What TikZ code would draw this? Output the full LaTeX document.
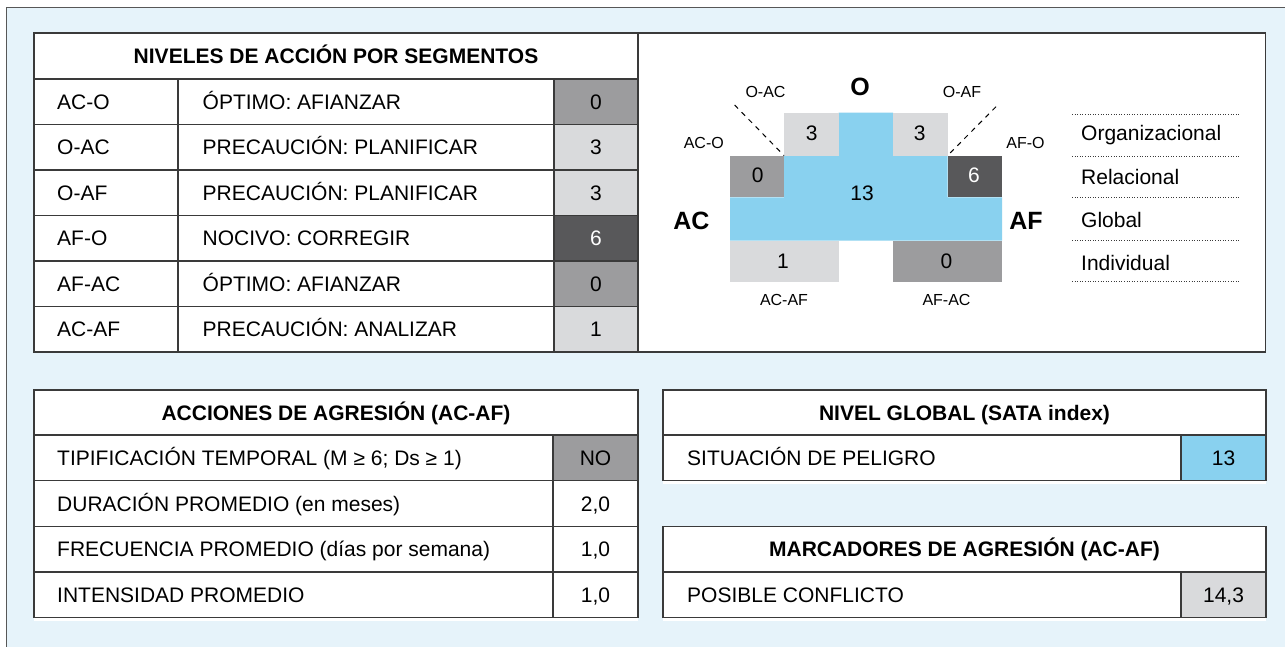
\documentclass[tikz,border=0pt]{standalone}
\usepackage{fontspec}
\setmainfont{Liberation Sans}
\definecolor{bgblue}{HTML}{E6F3FA}
\definecolor{skyb}{HTML}{89D1EF}
\definecolor{lgrey}{HTML}{D9DADC}
\definecolor{mgrey}{HTML}{9C9C9E}
\definecolor{dgrey}{HTML}{58585A}
\definecolor{lineg}{HTML}{3A3A3A}
\begin{document}
\begin{tikzpicture}[x=1pt,y=-1pt,
  cell/.style={draw=lineg,line width=1.3pt},
  txt/.style={font=\fontsize{21}{24}\selectfont,inner sep=0pt,anchor=base west},
  ctxt/.style={font=\fontsize{21}{24}\selectfont,inner sep=0pt,anchor=base},
  htxt/.style={font=\fontsize{21}{24}\selectfont\bfseries,inner sep=0pt,anchor=base},
  small/.style={font=\fontsize{16}{18}\selectfont,inner sep=0pt,anchor=base},
  big/.style={font=\fontsize{25}{28}\selectfont\bfseries,inner sep=0pt,anchor=base},
  legline/.style={draw=lineg,line width=1pt,dash pattern=on 1pt off 1.6pt},
  guide/.style={draw=black,line width=1pt,dash pattern=on 5pt off 5pt},
]
\useasboundingbox (0,0) rectangle (1285,646);
% outer frame
\fill[bgblue] (6,7.5) rectangle (1290,650);
\draw[lineg!85,line width=1pt] (6,650) -- (6,7.5) -- (1290,7.5);

% ---------- Table 1 ----------
\fill[white] (34,33) rectangle (638,352);
\fill[mgrey] (554,79) rectangle (638,124.5);
\fill[lgrey] (554,124.5) rectangle (638,170);
\fill[lgrey] (554,170) rectangle (638,215.5);
\fill[dgrey] (554,215.5) rectangle (638,261);
\fill[mgrey] (554,261) rectangle (638,306.5);
\fill[lgrey] (554,306.5) rectangle (638,352);
\draw[cell] (34,33) rectangle (638,352);
\foreach \yy in {79,124.5,170,215.5,261,306.5} \draw[cell] (34,\yy) -- (638,\yy);
\draw[cell] (178,79) -- (178,352);
\draw[cell] (554,79) -- (554,352);
\node[htxt] (t1h) at (336,63.5) {NIVELES DE ACCIÓN POR SEGMENTOS};
\node[txt] (t1a1) at (57,109.25) {AC-O};
\node[txt] (t1b1) at (202.5,109.25) {ÓPTIMO: AFIANZAR};
\node[ctxt] (t1c1) at (596,109.25) {0};
\node[txt] (t1a2) at (57,154.75) {O-AC};
\node[txt] (t1b2) at (202.5,154.75) {PRECAUCIÓN: PLANIFICAR};
\node[ctxt] (t1c2) at (596,154.75) {3};
\node[txt] (t1a3) at (57,200.25) {O-AF};
\node[txt] (t1b3) at (202.5,200.25) {PRECAUCIÓN: PLANIFICAR};
\node[ctxt] (t1c3) at (596,200.25) {3};
\node[txt] (t1a4) at (57,245.75) {AF-O};
\node[txt] (t1b4) at (202.5,245.75) {NOCIVO: CORREGIR};
\node[ctxt,text=white] (t1c4) at (596,245.75) {6};
\node[txt] (t1a5) at (57,291.25) {AF-AC};
\node[txt] (t1b5) at (202.5,291.25) {ÓPTIMO: AFIANZAR};
\node[ctxt] (t1c5) at (596,291.25) {0};
\node[txt] (t1a6) at (57,336.75) {AC-AF};
\node[txt] (t1b6) at (202.5,336.75) {PRECAUCIÓN: ANALIZAR};
\node[ctxt] (t1c6) at (596,336.75) {1};

% ---------- Diagram box ----------
\fill[white] (638,33) rectangle (1265.5,352);
\draw[cell] (638,33) rectangle (1265.5,352);
\fill[skyb] (838.5,112.7) -- (893,112.7) -- (893,156) -- (947.7,156) -- (947.7,197.3)
  -- (1002,197.3) -- (1002,240.7) -- (730,240.7) -- (730,197.3) -- (784,197.3)
  -- (784,156) -- (838.5,156) -- cycle;
\fill[lgrey] (784,112.7) rectangle (838.5,156);
\fill[lgrey] (893,112.7) rectangle (947.7,156);
\fill[mgrey] (730,156) rectangle (784,197.3);
\fill[dgrey] (947.7,156) rectangle (1002,197.3);
\fill[lgrey] (730,240.7) rectangle (839,281.7);
\fill[mgrey] (892.6,240.7) rectangle (1002,281.7);
\coordinate (gl1) at (734.6,105);
\coordinate (gl2) at (784,155.5);
\coordinate (gr1) at (996,106.7);
\coordinate (gr2) at (947.7,155.5);
\draw[guide] (gl1) -- (gl2);
\draw[guide] (gr1) -- (gr2);
\node[big] (dO) at (860,95.3) {O};
\node[big] (dAC) at (691.4,229.3) {AC};
\node[big] (dAF) at (1026,229.3) {AF};
\node[small] (lOAC) at (765.5,97.4) {O-AC};
\node[small] (lOAF) at (962,97.4) {O-AF};
\node[small] (lACO) at (703.8,148.4) {AC-O};
\node[small] (lAFO) at (1025.5,148.4) {AF-O};
\node[small] (lACAF) at (784,305.7) {AC-AF};
\node[small] (lAFAC) at (946.5,305.7) {AF-AC};
\node[ctxt] (n3a) at (811.6,140.2) {3};
\node[ctxt] (n3b) at (919.7,140.2) {3};
\node[ctxt] (n0a) at (757.7,182.5) {0};
\node[ctxt,text=white] (n6) at (974,182.5) {6};
\node[ctxt] (n13) at (862,200.8) {13};
\node[ctxt] (n1) at (783,268.2) {1};
\node[ctxt] (n0b) at (946.5,268.2) {0};
% legend
\foreach \yy in {114.3,156.7,197.7,240.7,281} \draw[legline] (1072,\yy) -- (1238.6,\yy);
\node[txt] (lg1) at (1081,140.8) {Organizacional};
\node[txt] (lg2) at (1081,184.2) {Relacional};
\node[txt] (lg3) at (1081,227.5) {Global};
\node[txt] (lg4) at (1081,270.8) {Individual};

% ---------- Table A ----------
\fill[white] (34,390) rectangle (638,621);
\fill[mgrey] (553,435) rectangle (638,480.7);
\draw[cell] (34,390) rectangle (638,617.5);
\foreach \yy in {435,480.7,526.3,572} \draw[cell] (34,\yy) -- (638,\yy);
\draw[cell] (553,435) -- (553,617.5);
\node[htxt] (tah) at (336,420) {ACCIONES DE AGRESIÓN (AC-AF)};
\node[txt] (ta1) at (57,465.3) {TIPIFICACIÓN TEMPORAL (M ≥ 6; Ds ≥ 1)};
\node[ctxt] (ta1v) at (595.5,465.3) {NO};
\node[txt] (ta2) at (57,511) {DURACIÓN PROMEDIO (en meses)};
\node[ctxt] (ta2v) at (595.5,511) {2,0};
\node[txt] (ta3) at (57,556.6) {FRECUENCIA PROMEDIO (días por semana)};
\node[ctxt] (ta3v) at (595.5,556.6) {1,0};
\node[txt] (ta4) at (57,602.2) {INTENSIDAD PROMEDIO};
\node[ctxt] (ta4v) at (595.5,602.2) {1,0};

% ---------- Table B ----------
\fill[white] (663,390) rectangle (1266,484);
\fill[skyb] (1181,435) rectangle (1266,480.7);
\draw[cell] (663,390) rectangle (1266,480.7);
\draw[cell] (663,435) -- (1266,435);
\draw[cell] (1181,435) -- (1181,480.7);
\node[htxt] (tbh) at (964.5,420) {NIVEL GLOBAL (SATA index)};
\node[txt] (tb1) at (687,465.3) {SITUACIÓN DE PELIGRO};
\node[ctxt] (tb1v) at (1223.5,465.3) {13};

% ---------- Table C ----------
\fill[white] (663,526.5) rectangle (1266,621);
\fill[lgrey] (1181,572) rectangle (1266,617.5);
\draw[cell] (663,526.5) rectangle (1266,617.5);
\draw[cell] (663,572) -- (1266,572);
\draw[cell] (1181,572) -- (1181,617.5);
\node[htxt] (tch) at (964.5,556.7) {MARCADORES DE AGRESIÓN (AC-AF)};
\node[txt] (tc1) at (687,602.2) {POSIBLE CONFLICTO};
\node[ctxt] (tc1v) at (1223.5,602.2) {14,3};
\end{tikzpicture}
\end{document}
